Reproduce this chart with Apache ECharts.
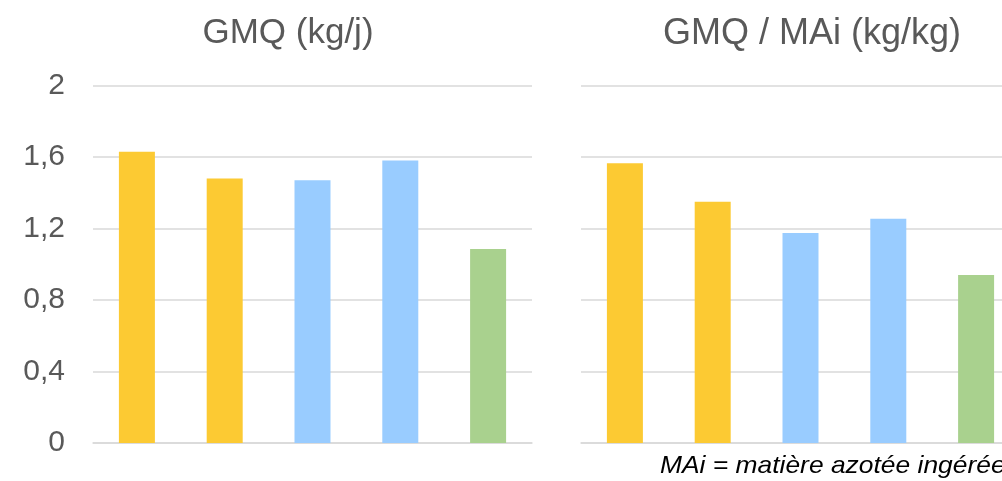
<!DOCTYPE html>
<html>
<head>
<meta charset="utf-8">
<style>
  html, body { margin: 0; padding: 0; background: #ffffff; }
  #chart { width: 1002px; height: 481px; }
</style>
<script src="https://cdn.jsdelivr.net/npm/echarts@6/dist/echarts.min.js"></script>
</head>
<body>
<div id="chart"></div>
<script>
// Five groups, coloured by diet type
const categories = ['1', '2', '3', '4', '5'];
const barColors = ['#FCCA33', '#FCCA33', '#99CCFF', '#99CCFF', '#A9D18E'];

// Average daily gain (kg/day)
const gmqValues = [1.63, 1.48, 1.47, 1.58, 1.085];
// Average daily gain per kg of ingested nitrogen matter (kg/kg)
const gmqMaiValues = [1.565, 1.35, 1.175, 1.255, 0.94];

// Shared value axis ticks
const yMin = 0, yMax = 2, yStep = 0.4;

const titles = ['GMQ (kg/j)', 'GMQ / MAi (kg/kg)'];
const footnote = 'MAi = matière azotée ingérée';

const font = '"Liberation Sans", Arial, sans-serif';
const textGrey = '#595959';
const gridGrey = '#D9D9D9';

function barData(values) {
  return values.map((v, i) => ({ value: v, itemStyle: { color: barColors[i] } }));
}

function valueAxis(gridIndex, showLabels) {
  return {
    type: 'value', gridIndex,
    min: yMin, max: yMax, interval: yStep,
    axisLine: { show: false }, axisTick: { show: false },
    axisLabel: {
      show: showLabels, color: textGrey, fontFamily: font, fontSize: 30, margin: 28,
      formatter: v => String(Math.round(v * 10) / 10).replace('.', ',')
    },
    splitLine: { lineStyle: { color: gridGrey, width: 1.5 } }
  };
}

function categoryAxis(gridIndex) {
  return {
    type: 'category', gridIndex, data: categories,
    axisLine: { lineStyle: { color: gridGrey, width: 1.5 } },
    axisTick: { show: false },
    axisLabel: { show: false }
  };
}

const chart = echarts.init(document.getElementById('chart'), null, { renderer: 'canvas' });
chart.setOption({
  animation: false,
  backgroundColor: '#ffffff',
  title: [
    { text: titles[0], left: 283, top: 11, textAlign: 'center',
      textStyle: { fontFamily: font, fontSize: 35, fontWeight: 'normal', color: textGrey } },
    { text: titles[1], left: 807, top: 11, textAlign: 'center',
      textStyle: { fontFamily: font, fontSize: 36, fontWeight: 'normal', color: textGrey } }
  ],
  grid: [
    { left: 93, width: 439, top: 85.5, bottom: 38, outerBoundsMode: 'none' },
    // the second panel runs past the right edge of the canvas
    { left: 581, width: 439, top: 85.5, bottom: 38, outerBoundsMode: 'none' }
  ],
  xAxis: [categoryAxis(0), categoryAxis(1)],
  yAxis: [valueAxis(0, true), valueAxis(1, false)],
  series: [
    { type: 'bar', xAxisIndex: 0, yAxisIndex: 0, barWidth: '41%', data: barData(gmqValues) },
    { type: 'bar', xAxisIndex: 1, yAxisIndex: 1, barWidth: '41%', data: barData(gmqMaiValues) }
  ],
  graphic: [
    { type: 'text', x: 660, y: 454, scaleX: 1.1,
      style: { text: footnote, fontFamily: font, fontSize: 24, fontStyle: 'italic', fill: '#000000' } }
  ]
});
</script>
</body>
</html>
